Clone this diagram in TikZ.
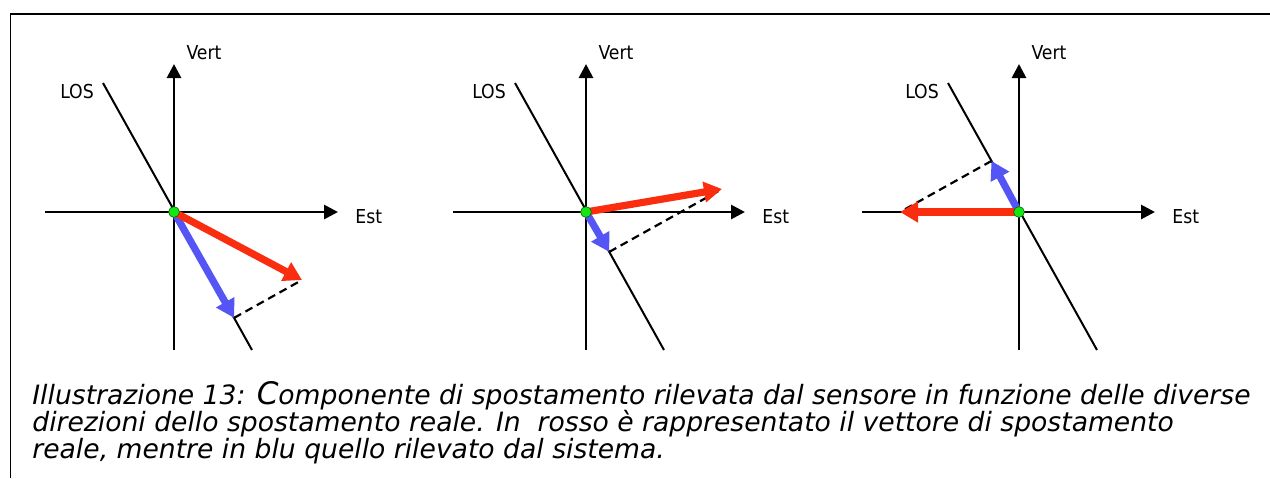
\documentclass[tikz,border=0pt]{standalone}
\usepackage{fontspec}
\setmainfont{DejaVu Sans}
\newfontfamily\lblfont{DejaVu Sans Condensed}
\usetikzlibrary{arrows.meta,calc}
\definecolor{realred}{RGB}{250,45,15}
\definecolor{losblue}{RGB}{85,85,245}
\definecolor{dotgreen}{RGB}{20,230,20}
\tikzset{
  axis/.style={line width=1.4pt,-{Triangle[length=7pt,width=7pt]}},
  losline/.style={line width=1pt},
  proj/.style={line width=1.1pt,dash pattern=on 4pt off 2.5pt},
  realvec/.style={realred,line width=3.6pt,-{Triangle[length=9pt,width=10pt]}},
  misvec/.style={losblue,line width=3.6pt,-{Triangle[length=9pt,width=10pt]}},
  lbl/.style={font=\lblfont\fontsize{9.6}{11}\selectfont,inner sep=0pt},
  caption/.style={font=\itshape\fontsize{13.3}{14}\selectfont,inner sep=0pt,anchor=base west}
}
\begin{document}
\begin{tikzpicture}[x=0.5pt,y=-0.5pt]
	\useasboundingbox (0,0) rectangle (1270,478);
	\draw[line width=0.8pt] (10.5,478) -- (10.5,14) -- (1270,14);
	
	\foreach \i/\ox/\hl/\hr/\rx/\ry in {1/174/-129/164/128/68, 2/586/-133/159/136/-23, 3/1019/-157/136/-119/0}{
	\begin{scope}[shift={(\ox,212)}]
		\coordinate (o\i) at (0,0);
		\coordinate (w\i) at (\hl,0);
		\coordinate (e\i) at (\hr,0);
		\coordinate (s\i) at (0,138);
		\coordinate (n\i) at (0,-148);
		\coordinate (lu\i) at (-71,-129);
		\coordinate (ld\i) at (78,138);
		\coordinate (real\i) at (\rx,\ry);
		\coordinate (mis\i) at ($(lu\i)!(real\i)!(ld\i)$);
		\draw[axis] (w\i) -- (e\i);
		\draw[axis] (s\i) -- (n\i);
		\draw[losline] (lu\i) -- (ld\i);
		\node[lbl] (vert\i) at (30,-159) {Vert};
		\node[lbl] (los\i) at (-97,-120) {LOS};
		\node[lbl,anchor=west] (est\i) at ($(e\i)+(17,5)$) {Est};
		\draw[proj] (mis\i) -- (real\i);
		\draw[misvec] (o\i) -- (mis\i);
		\draw[realvec] (o\i) -- (real\i);
		\filldraw[fill=dotgreen,draw=green!40!black,line width=0.3pt] (o\i) circle (2.7pt);
	\end{scope}
	}
	
	\node[caption] (cap1) at (32,404) {Illustrazione 13: {\fontsize{15.5}{14}\selectfont C}omponente di spostamento rilevata dal sensore in funzione delle diverse};
	\node[caption] (cap2) at (32,431) {direzioni dello spostamento reale. In\ \ rosso è rappresentato il vettore di spostamento};
	\node[caption] (cap3) at (32,458) {reale, mentre in blu quello rilevato dal sistema.};
\end{tikzpicture}
\end{document}
